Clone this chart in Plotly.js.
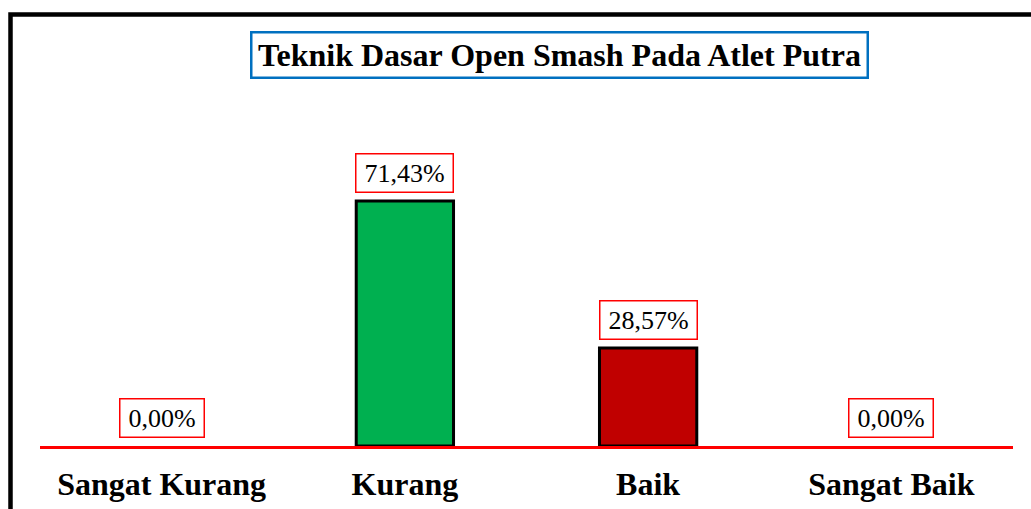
<!DOCTYPE html>
<html><head><meta charset="utf-8">
<script src="https://cdn.plot.ly/plotly-3.0.1.min.js"></script>
<style>html,body{margin:0;padding:0;background:#fff;}#chart{width:1031px;height:509px;}</style>
</head><body><div id="chart"></div>
<script>
const categories = ["Sangat Kurang", "Kurang", "Baik", "Sangat Baik"];
const values = [0, 71.43, 28.57, 0];
const labels = ["0,00%", "71,43%", "28,57%", "0,00%"];
const barColors = ["#00B050", "#00B050", "#C00000", "#C00000"];
const titleText = "Teknik Dasar Open Smash Pada Atlet Putra";

const W = 1031, H = 509;
const M = {l: 40, r: 18, t: 103, b: 63};
const pw = W - M.l - M.r, ph = H - M.t - M.b;
const px = x => (x - M.l) / pw;
const py = y => (H - M.b - y) / ph;
const serif = "Liberation Serif";

const annotations = categories.map((c, i) => ({
  x: c, y: values[i], xref: "x", yref: "y",
  text: labels[i], showarrow: false, yanchor: "bottom", yshift: 8,
  font: {family: serif, size: 26, color: "#000"},
  bordercolor: "#FF0000", borderwidth: 1.5, borderpad: 2,
  width: labels[i].length * 13 + 14, height: 33, bgcolor: "#fff"
}));
annotations.push({
  xref: "paper", yref: "paper", x: px(559.5), y: py(55), xanchor: "center", yanchor: "middle",
  text: "<b>" + titleText + "</b>", showarrow: false,
  font: {family: serif, size: 32, color: "#000"},
  width: 612, height: 41,
  bordercolor: "#0070C0", borderwidth: 2.5, borderpad: 1, bgcolor: "#fff"
});

const data = [{
  type: "bar", x: categories, y: values,
  marker: {color: barColors, line: {color: "#000", width: values.map(v => v > 0 ? 3 : 0)}},
  hoverinfo: "none"
}];

const layout = {
  width: W, height: H, margin: M,
  paper_bgcolor: "#fff", plot_bgcolor: "#fff",
  showlegend: false, bargap: 0.6,
  xaxis: {type: "category", showgrid: false, zeroline: false, showline: true,
    linecolor: "#FF0000", linewidth: 3, ticks: "", layer: "above traces",
    tickfont: {family: serif, size: 32, color: "#000", weight: "bold"},
    ticklabelstandoff: 8},
  yaxis: {range: [0, 100], showgrid: false, zeroline: false, showline: false,
    showticklabels: false, ticks: ""},
  annotations: annotations,
  shapes: [{type: "rect", xref: "paper", yref: "paper",
    x0: px(10.5), x1: px(1045), y0: py(14.5), y1: py(530),
    line: {color: "#000", width: 4.5}, fillcolor: "rgba(0,0,0,0)", layer: "above"}]
};
Plotly.newPlot("chart", data, layout, {displayModeBar: false, staticPlot: true});
</script></body></html>
